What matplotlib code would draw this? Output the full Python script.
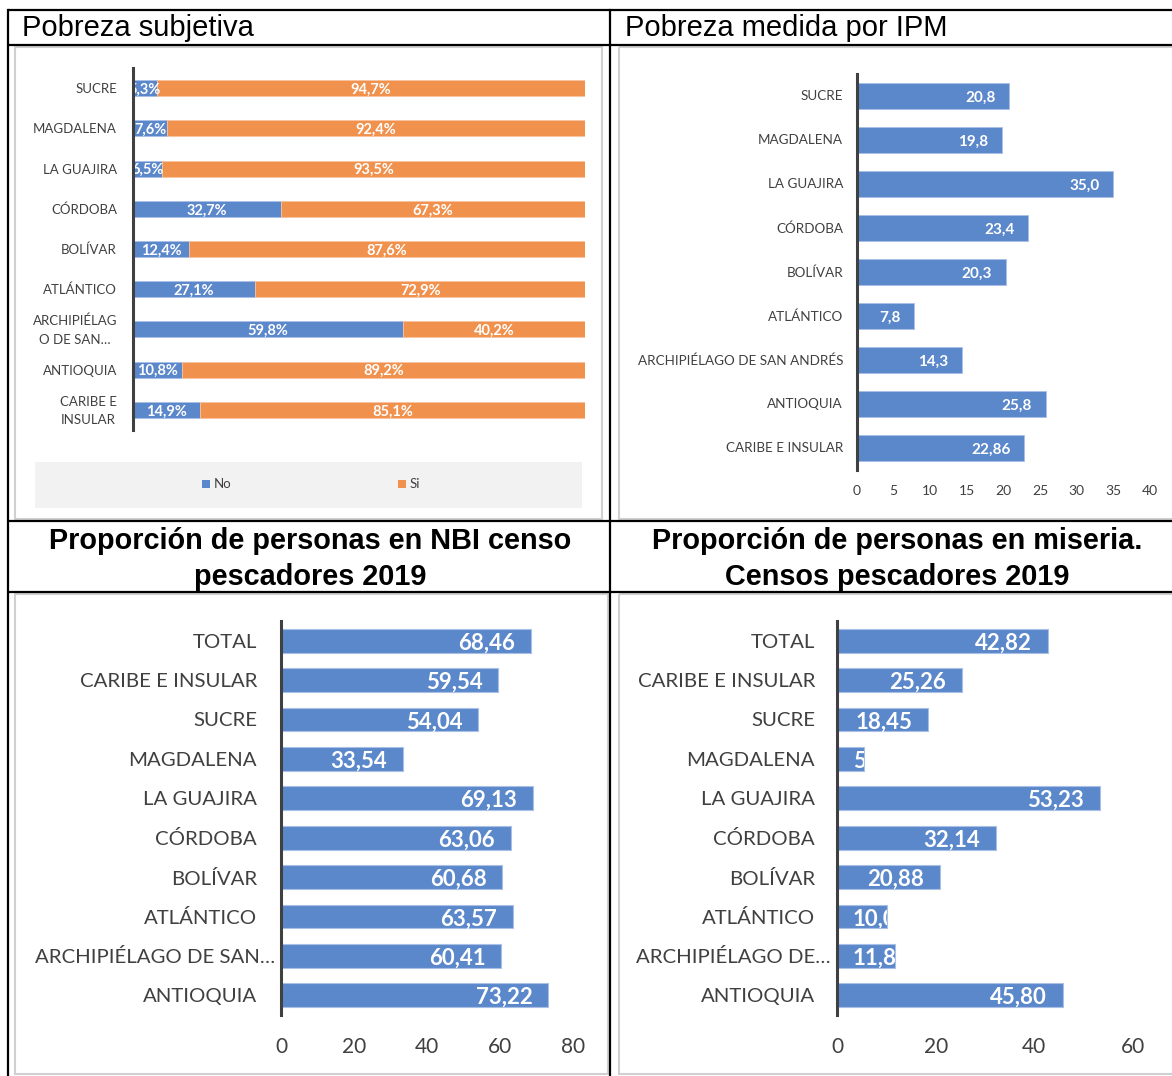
import matplotlib
matplotlib.use("Agg")
import matplotlib.pyplot as plt
from matplotlib.patches import Rectangle

# ---------------- data ----------------
subj_cats = ["SUCRE", "MAGDALENA", "LA GUAJIRA", "CÓRDOBA", "BOLÍVAR", "ATLÁNTICO",
             "ARCHIPIÉLAG\nO DE SAN…", "ANTIOQUIA", "CARIBE E\nINSULAR"]
subj_no = [5.3, 7.6, 6.5, 32.7, 12.4, 27.1, 59.8, 10.8, 14.9]
subj_si = [94.7, 92.4, 93.5, 67.3, 87.6, 72.9, 40.2, 89.2, 85.1]

ipm_cats = ["SUCRE", "MAGDALENA", "LA GUAJIRA", "CÓRDOBA", "BOLÍVAR", "ATLÁNTICO",
            "ARCHIPIÉLAGO DE SAN ANDRÉS", "ANTIOQUIA", "CARIBE E INSULAR"]
ipm_vals = [20.8, 19.8, 35.0, 23.4, 20.3, 7.8, 14.3, 25.8, 22.86]
ipm_labels = ["20,8", "19,8", "35,0", "23,4", "20,3", "7,8", "14,3", "25,8", "22,86"]
ipm_ticks = [0, 5, 10, 15, 20, 25, 30, 35, 40]

nbi_cats = ["TOTAL", "CARIBE E INSULAR", "SUCRE", "MAGDALENA", "LA GUAJIRA", "CÓRDOBA",
            "BOLÍVAR", "ATLÁNTICO", "ARCHIPIÉLAGO DE SAN…", "ANTIOQUIA"]
nbi_vals = [68.46, 59.54, 54.04, 33.54, 69.13, 63.06, 60.68, 63.57, 60.41, 73.22]
nbi_ticks = [0, 20, 40, 60, 80]

mis_cats = ["TOTAL", "CARIBE E INSULAR", "SUCRE", "MAGDALENA", "LA GUAJIRA", "CÓRDOBA",
            "BOLÍVAR", "ATLÁNTICO", "ARCHIPIÉLAGO DE…", "ANTIOQUIA"]
mis_vals = [42.82, 25.26, 18.45, 5.45, 53.23, 32.14, 20.88, 10.05, 11.83, 45.80]
mis_ticks = [0, 20, 40, 60]

# ---------------- style ----------------
W, H = 1172, 1076
BLUE = "#5B87CB"
ORANGE = "#F0914E"
EDGE_B = "#A9BFE6"
EDGE_O = "#F7C3A0"
TXT = "#404040"
CF = ["Lato", "DejaVu Sans"]
HF = ["Liberation Sans", "DejaVu Sans"]
PX = 72 / 100  # points per pixel

fig = plt.figure(figsize=(W / 100, H / 100), dpi=100)
fig.patch.set_facecolor("white")


def px_axes(x0, y0, x1, y1, **kw):
    return fig.add_axes([x0 / W, 1 - y1 / H, (x1 - x0) / W, (y1 - y0) / H], **kw)


# background / table axes in pixel coords
bg = px_axes(0, 0, W, H)
bg.set_xlim(0, W)
bg.set_ylim(H, 0)
bg.axis("off")

# chart frames (light gray)
for (x0, y0, x1, y1) in [(15, 47, 602, 519), (619, 47, 1180, 519),
                         (15, 594, 608, 1074), (619, 594, 1180, 1074)]:
    bg.add_patch(Rectangle((x0, y0), x1 - x0, y1 - y0, fill=False,
                           edgecolor="#D0D0D0", linewidth=1.5))

# legend box of panel 1
bg.add_patch(Rectangle((35, 462), 547, 46, facecolor="#F2F2F2", edgecolor="none"))
bg.add_patch(Rectangle((202, 480), 8, 8, facecolor=BLUE, edgecolor="none"))
bg.text(214, 484, "No", fontsize=9.5, family=CF, color=TXT, va="center", ha="left")
bg.add_patch(Rectangle((398, 480), 8, 8, facecolor=ORANGE, edgecolor="none"))
bg.text(410, 484, "Si", fontsize=9.5, family=CF, color=TXT, va="center", ha="left")

# table lines
lw = 1.6
for y in [10, 45, 521, 592]:
    bg.plot([8, W], [y, y], color="black", linewidth=lw, solid_capstyle="butt")
bg.plot([8, 8], [10, H], color="black", linewidth=lw)
bg.plot([610, 610], [10, H], color="black", linewidth=lw)

# headers
bg.text(22, 28, "Pobreza subjetiva", fontsize=21, family=HF, va="center", ha="left")
bg.text(625, 28, "Pobreza medida por IPM", fontsize=21, family=HF, va="center", ha="left")
bg.text(310, 559, "Proporción de personas en NBI censo\npescadores 2019", fontsize=20.8,
        family=HF, fontweight="bold", va="center", ha="center", linespacing=1.32)
bg.text(897, 559, "Proporción de personas en miseria.\nCensos pescadores 2019", fontsize=20.8,
        family=HF, fontweight="bold", va="center", ha="center", linespacing=1.32)


def style_axes(ax, cats, lab_size, pad_px, tick_size, show_x=True, extra=None, ls=1.2, dy=0.0):
    n = len(cats)
    ax.set_ylim(n - 0.5, -0.5)
    ax.set_yticks([])
    ax.tick_params(axis="x", length=0, pad=8, labelsize=tick_size, colors=TXT)
    for s in ["top", "right", "bottom"]:
        ax.spines[s].set_visible(False)
    ax.spines["left"].set_color("#404040")
    ax.spines["left"].set_linewidth(2.2)
    ax.spines["left"].set_zorder(5)
    ax.set_facecolor("none")
    if not show_x:
        ax.set_xticks([])
    for i, c in enumerate(cats):
        p = pad_px
        if extra and i in extra:
            p = extra[i]
        ax.annotate(c, (0, i), xytext=(-p * PX, -dy * PX), textcoords="offset points",
                    ha="right", va="center", fontsize=lab_size, family=CF, color=TXT,
                    multialignment="center", linespacing=ls, annotation_clip=False)


# ---------------- panel 1: Pobreza subjetiva ----------------
ax1 = px_axes(133, 68, 585, 430)
n1 = len(subj_cats)
ax1.set_xlim(0, 100)
yy = list(range(n1))
ax1.barh(yy, subj_no, height=0.4, color=BLUE, edgecolor=EDGE_B, linewidth=0.6)
ax1.barh(yy, subj_si, left=subj_no, height=0.4, color=ORANGE, edgecolor=EDGE_O, linewidth=0.6)
style_axes(ax1, subj_cats, 9.5, 16, 9, show_x=False, ls=1.65, dy=1)
for i, (a, b) in enumerate(zip(subj_no, subj_si)):
    ax1.text(a / 2, i + 0.04, f"{a:.1f}%".replace(".", ","), ha="center", va="center",
             color="white", fontsize=10.5, fontweight="bold", family=CF)
    ax1.text(a + b / 2, i + 0.04, f"{b:.1f}%".replace(".", ","), ha="center", va="center",
             color="white", fontsize=10.5, fontweight="bold", family=CF)

# ---------------- panel 2: IPM ----------------
ax2 = px_axes(857, 74, 1150, 470)
n2 = len(ipm_cats)
ax2.set_xlim(0, 40)
ax2.barh(range(n2), ipm_vals, height=0.57, color=BLUE, edgecolor=EDGE_B, linewidth=0.6)
style_axes(ax2, ipm_cats, 9.7, 14, 10, dy=0.5)
ax2.set_xticks(ipm_ticks)
ax2.set_xticklabels([str(t) for t in ipm_ticks], family=CF)
ax2.tick_params(axis="x", pad=11)
for i, (v, t) in enumerate(zip(ipm_vals, ipm_labels)):
    ax2.annotate(t, (v, i + 0.04), xytext=(-14 * PX, 0), textcoords="offset points",
                 ha="right", va="center", color="white", fontsize=11,
                 fontweight="bold", family=CF)


def inside_end(ax, vals, fs, short_limit):
    bars = ax.barh(range(len(vals)), vals, height=0.6, color=BLUE,
                   edgecolor=EDGE_B, linewidth=0.8)
    for i, (v, b) in enumerate(zip(vals, bars)):
        lab = f"{v:.2f}".replace(".", ",")
        if v < short_limit:
            t = ax.annotate(lab, (0, i + 0.06), xytext=(16 * PX, 0), textcoords="offset points",
                            ha="left", va="center", color="white", fontsize=fs,
                            fontweight="bold", family=CF)
            t.set_clip_path(b)
        else:
            ax.annotate(lab, (v, i + 0.06), xytext=(-16 * PX, 0), textcoords="offset points",
                        ha="right", va="center", color="white", fontsize=fs,
                        fontweight="bold", family=CF)


# ---------------- panel 3: NBI ----------------
ax3 = px_axes(281, 621, 573, 1015)
ax3.set_xlim(0, 80)
inside_end(ax3, nbi_vals, 16, 0)
style_axes(ax3, nbi_cats, 14.7, 24, 15, extra={8: 6}, dy=1.5)
ax3.set_xticks(nbi_ticks)
ax3.set_xticklabels([str(t) for t in nbi_ticks], family=CF)
ax3.tick_params(axis="x", pad=16)

# ---------------- panel 4: miseria ----------------
ax4 = px_axes(837, 621, 1133, 1015)
ax4.set_xlim(0, 60)
inside_end(ax4, mis_vals, 16, 15)
style_axes(ax4, mis_cats, 14.7, 22, 15, extra={8: 7}, dy=1.5)
ax4.set_xticks(mis_ticks)
ax4.set_xticklabels([str(t) for t in mis_ticks], family=CF)
ax4.tick_params(axis="x", pad=16)

fig.savefig("out.png", dpi=100, facecolor="white")
